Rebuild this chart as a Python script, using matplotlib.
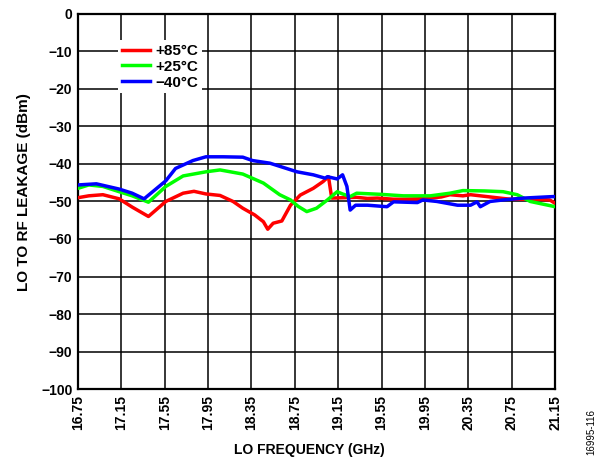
import matplotlib.pyplot as plt

plt.rcParams['font.family'] = ['Liberation Sans', 'DejaVu Sans']

# LO to RF leakage vs LO frequency
f_85 = [16.75, 16.85, 16.98, 17.13, 17.25, 17.40, 17.56, 17.72, 17.82, 17.93,
        18.06, 18.18, 18.27, 18.38, 18.46, 18.50, 18.55, 18.63, 18.71, 18.80,
        18.92, 19.01, 19.06, 19.09, 19.20, 19.32, 19.42, 19.51, 19.66, 19.75,
        19.88, 20.00, 20.10, 20.18, 20.30, 20.37, 20.52, 20.67, 20.74, 20.86,
        20.98, 21.10, 21.15]
db_85 = [-49.0, -48.5, -48.2, -49.3, -51.5, -54.0, -50.0, -47.8, -47.3, -48.0,
         -48.4, -50.0, -51.8, -53.6, -55.4, -57.4, -55.8, -55.2, -51.0, -48.3,
         -46.5, -44.7, -43.4, -49.1, -49.0, -48.9, -49.2, -49.1, -49.4, -49.4,
         -49.3, -49.1, -48.8, -48.2, -48.5, -48.2, -48.7, -49.2, -49.4, -49.4,
         -49.4, -49.6, -50.5]

f_25 = [16.75, 16.85, 16.98, 17.13, 17.25, 17.40, 17.56, 17.72, 17.93, 18.06,
        18.27, 18.46, 18.61, 18.71, 18.78, 18.86, 18.95, 19.05, 19.14, 19.19,
        19.26, 19.32, 19.54, 19.75, 20.00, 20.18, 20.30, 20.50, 20.67, 20.80,
        20.92, 21.15]
db_25 = [-46.5, -45.6, -46.0, -47.4, -48.5, -50.2, -46.0, -43.2, -42.1, -41.6,
         -42.7, -45.1, -48.2, -49.6, -51.3, -52.7, -51.8, -49.6, -47.4, -48.0,
         -48.7, -47.8, -48.1, -48.5, -48.5, -47.8, -47.1, -47.2, -47.4, -48.2,
         -50.0, -51.4]

f_m40 = [16.75, 16.92, 17.13, 17.25, 17.36, 17.56, 17.65, 17.81, 17.93, 18.09,
         18.27, 18.36, 18.52, 18.77, 18.92, 19.03, 19.05, 19.14, 19.19, 19.23,
         19.26, 19.31, 19.42, 19.60, 19.66, 19.88, 19.93, 20.06, 20.25, 20.37,
         20.43, 20.46, 20.55, 20.67, 20.86, 21.13, 21.15]
db_m40 = [-45.6, -45.3, -46.7, -47.8, -49.3, -44.5, -41.2, -39.1, -38.1, -38.1,
          -38.2, -39.1, -39.8, -42.1, -42.9, -43.8, -43.4, -44.0, -42.9, -46.0,
          -52.3, -51.0, -51.0, -51.4, -50.1, -50.3, -49.6, -50.0, -51.0, -51.0,
          -50.1, -51.4, -50.0, -49.6, -49.1, -48.7, -48.7]

xticks = [16.75, 17.15, 17.55, 17.95, 18.35, 18.75, 19.15, 19.55, 19.95,
          20.35, 20.75, 21.15]
yticks = list(range(-100, 1, 10))

fig = plt.figure(figsize=(5.95, 4.61), dpi=100)
ax = fig.add_axes([0.131, 0.156, 0.802, 0.814])

ax.plot(f_85, db_85, color='#ff0000', lw=2.5, label='+85°C', zorder=3)
ax.plot(f_25, db_25, color='#00ff00', lw=2.5, label='+25°C', zorder=3)
ax.plot(f_m40, db_m40, color='#0000ff', lw=2.5, label='\u221240°C', zorder=3)

ax.set_xlim(16.75, 21.15)
ax.set_ylim(-100, 0)
ax.set_xticks(xticks)
ax.set_xticklabels([f'{x:.2f}' for x in xticks], rotation=90, fontweight='bold', fontsize=10)
ax.set_yticks(yticks)
ax.set_yticklabels([str(y).replace('-', '\u2212') for y in yticks], fontweight='bold', fontsize=10)
ax.tick_params(length=0, pad=4)
ax.grid(True, color='black', lw=1.1)
for s in ax.spines.values():
    s.set_linewidth(1.6)

ax.set_xlabel('LO FREQUENCY (GHz)', fontweight='bold', fontsize=10)
ax.xaxis.set_label_coords(0.486, -0.144)
ax.set_ylabel('LO TO RF LEAKAGE (dBm)', fontweight='bold', fontsize=11)
ax.yaxis.set_label_coords(-0.098, 0.525)

leg = ax.legend(loc='upper left', bbox_to_anchor=(0.084, 0.93), frameon=True,
                fancybox=False, edgecolor='none', framealpha=1,
                prop={'weight': 'bold', 'size': 11}, handlelength=1.85,
                handletextpad=0.35, labelspacing=0.12, borderpad=0.25,
                borderaxespad=0)

fig.text(0.993, 0.063, '16995-116', rotation=90, fontsize=7, ha='center', va='center')

fig.savefig('out.png', dpi=100)
